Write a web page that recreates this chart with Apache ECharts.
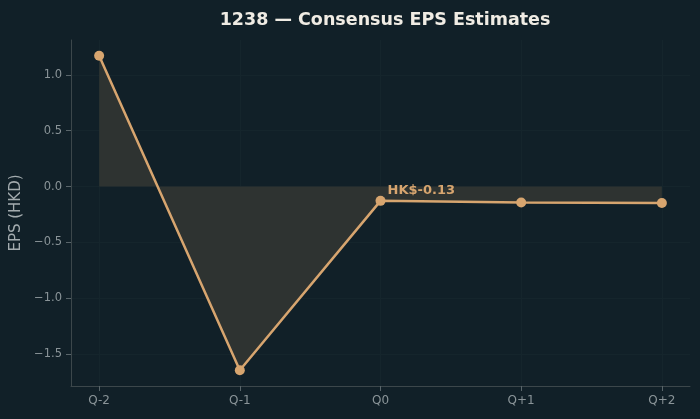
<!DOCTYPE html>
<html><head><meta charset="utf-8">
<script src="https://cdn.jsdelivr.net/npm/echarts@6/dist/echarts.min.js"></script>
<style>html,body{margin:0;padding:0;background:#112028;}#c{width:700px;height:419px;}</style>
</head><body><div id="c"></div>
<script>
var categories = ['Q-2', 'Q-1', 'Q0', 'Q+1', 'Q+2'];
var epsValues = [1.17, -1.643, -0.128, -0.143, -0.147];
var yTicks = [-1.5, -1.0, -0.5, 0.0, 0.5, 1.0];
var annotationText = 'HK$-0.13';
var annotationIndex = 2;

var seriesData = epsValues.map(function (v, i) {
  var item = { value: [i, v] };
  if (i === annotationIndex) {
    item.label = {
      show: true, formatter: annotationText, position: [12, -12],
      align: 'left', verticalAlign: 'top',
      color: '#d7a56f', fontWeight: 'bold', fontSize: 13, fontFamily: 'DejaVu Sans'
    };
  }
  return item;
});

var chart = echarts.init(document.getElementById('c'), null, { renderer: 'canvas' });
chart.setOption({
  backgroundColor: '#112028',
  animation: false,
  title: {
    text: '1238 — Consensus EPS Estimates',
    left: 380, textAlign: 'center', top: 6,
    textStyle: { color: '#f0ece4', fontSize: 17.5, fontWeight: 'bold', fontFamily: 'DejaVu Sans' }
  },
  grid: { left: 71, right: 10, top: 40, bottom: 33, containLabel: false },
  xAxis: {
    type: 'value', min: -0.2, max: 4.2,
    axisLine: { show: true, onZero: false, lineStyle: { color: '#3c474b', width: 1 } },
    axisTick: { show: true, customValues: [0, 1, 2, 3, 4], length: 5, lineStyle: { color: '#59656a' } },
    axisLabel: {
      customValues: [0, 1, 2, 3, 4], color: '#8a9498', fontSize: 12, margin: 9,
      fontFamily: 'DejaVu Sans',
      formatter: function (v) { return categories[Math.round(v)] || ''; }
    },
    splitLine: { show: true, lineStyle: { color: '#15252c', width: 1 } }
  },
  yAxis: {
    type: 'value', min: -1.784, max: 1.311,
    name: 'EPS (HKD)', nameLocation: 'middle', nameGap: 45, nameRotate: 90,
    nameTextStyle: { color: '#a3abae', fontSize: 15, fontFamily: 'DejaVu Sans' },
    axisLine: { show: true, onZero: false, lineStyle: { color: '#3c474b', width: 1 } },
    axisTick: { show: true, customValues: yTicks, length: 5, lineStyle: { color: '#59656a' } },
    axisLabel: {
      customValues: yTicks, color: '#8a9498', fontSize: 11.5, margin: 9,
      fontFamily: 'DejaVu Sans',
      formatter: function (v) { return (v < 0 ? '\u2212' : '') + Math.abs(v).toFixed(1); }
    },
    splitLine: { show: true, lineStyle: { color: '#15252c', width: 1 } }
  },
  series: [{
    type: 'line',
    data: seriesData,
    symbol: 'circle', symbolSize: 10,
    itemStyle: { color: '#d7a56f' },
    lineStyle: { color: '#d7a56f', width: 2.5 },
    areaStyle: { origin: 0, color: '#2e3331', opacity: 1 },
    z: 3
  }]
});
</script></body></html>
